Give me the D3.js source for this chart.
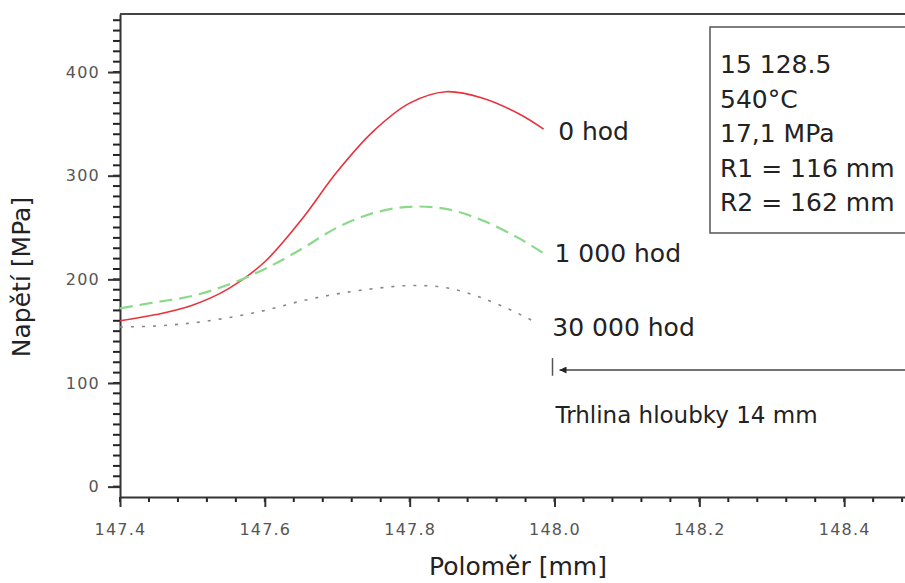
<!DOCTYPE html>
<html lang="cs">
    <head>
        <meta charset="utf-8">
        <script type="text/javascript" src="https://d3js.org/d3.v7.min.js"></script>
        <style type="text/css">
          body { margin: 0; background: white; }
          text { font-family: "DejaVu Sans", sans-serif; }
          .tick text { fill: #555; font-size: 16px; letter-spacing: 1.2px; }
          .axis path, .axis line { stroke: #333; }
        </style>
    </head>
    <body>
      <script type="text/javascript">
        // chart values
        var radius = [147.40, 147.45, 147.50, 147.55, 147.60, 147.65, 147.70, 147.75, 147.80, 147.85, 147.90, 147.95, 147.985];
        var radiusDotted = [147.40, 147.45, 147.50, 147.55, 147.60, 147.65, 147.70, 147.75, 147.80, 147.85, 147.90, 147.95, 147.97];
        var stress0 = [160, 166, 175, 191, 217, 257, 304, 343, 370, 381, 375, 360, 345];
        var stress1000 = [172, 178, 184, 195, 210, 229, 250, 264, 270, 268, 257, 240, 225];
        var stress30000 = [154, 155, 158, 163, 170, 179, 186, 191, 194, 192, 182, 167, 160];
        var seriesNames = ["0 hod", "1 000 hod", "30 000 hod"];
        var xTicks = [147.4, 147.6, 147.8, 148.0, 148.2, 148.4];
        var yTicks = [0, 100, 200, 300, 400];
        var infoLines = ["15 128.5", "540°C", "17,1 MPa", "R1 = 116 mm", "R2 = 162 mm"];
        var crackText = "Trhlina hloubky 14 mm";
        var outerRadius = 162;
        var crackDepth = 14;

        // size of the picture
        var w = 905;
        var h = 583;

        var svg = d3.select("body").append("svg").attr("width", w).attr("height", h);

        var xScale = d3.scaleLinear()
                       .domain([147.4, 148.5])
                       .range([120, 916.6]);
        var yScale = d3.scaleLinear()
                       .domain([-10, 456])
                       .range([497, 14]);

        // clip for the curves
        svg.append("defs").append("clipPath").attr("id", "plot")
           .append("rect")
           .attr("x", xScale(147.4)).attr("y", yScale(456))
           .attr("width", xScale(148.5) - xScale(147.4))
           .attr("height", yScale(-10) - yScale(456));

        // minor ticks, drawn by hand
        var xMinor = d3.range(0, 28).map(function(i) { return 147.4 + i * 0.04; });
        var yMinor = d3.range(0, 46).map(function(i) { return i * 10; });

        svg.selectAll("line.xminor")
           .data(xMinor)
           .enter()
           .append("line")
           .attr("class", "xminor")
           .attr("x1", function(d) { return xScale(d); })
           .attr("x2", function(d) { return xScale(d); })
           .attr("y1", yScale(-10))
           .attr("y2", yScale(-10) + 5)
           .attr("stroke", "#222")
           .attr("stroke-width", 2);
        svg.selectAll("line.yminor")
           .data(yMinor)
           .enter()
           .append("line")
           .attr("class", "yminor")
           .attr("x1", xScale(147.4) - 7)
           .attr("x2", xScale(147.4))
           .attr("y1", function(d) { return yScale(d); })
           .attr("y2", function(d) { return yScale(d); })
           .attr("stroke", "#222")
           .attr("stroke-width", 2);

        // major axes
        var xAxis = svg.append("g")
           .attr("class", "axis")
           .attr("transform", "translate(0," + yScale(-10) + ")")
           .call(d3.axisBottom(xScale).tickValues(xTicks).tickSize(10).tickSizeOuter(0).tickFormat(d3.format(".1f")));
        xAxis.select(".domain").attr("stroke-width", 2);
        xAxis.selectAll(".tick line").attr("stroke-width", 2);
        xAxis.selectAll(".tick text").attr("y", 27);

        var yAxis = svg.append("g")
           .attr("class", "axis")
           .attr("transform", "translate(" + xScale(147.4) + ",0)")
           .call(d3.axisLeft(yScale).tickValues(yTicks).tickSize(12).tickSizeOuter(0));
        yAxis.select(".domain").attr("stroke-width", 2);
        yAxis.selectAll(".tick line").attr("stroke-width", 2);
        yAxis.selectAll(".tick text").attr("x", -20);

        // top border
        svg.append("line")
           .attr("x1", xScale(147.4)).attr("x2", xScale(148.5))
           .attr("y1", yScale(456)).attr("y2", yScale(456))
           .attr("stroke", "#444").attr("stroke-width", 2);

        // curves
        var curves = [
          {x: radius, y: stress0, color: "#e8323c", dash: null, width: 1.6},
          {x: radius, y: stress1000, color: "#8bd98b", dash: "13,7", width: 2.2},
          {x: radiusDotted, y: stress30000, color: "#888", dash: "3,8", width: 1.6}
        ];
        var line = d3.line()
                     .x(function(d) { return xScale(d[0]); })
                     .y(function(d) { return yScale(d[1]); })
                     .curve(d3.curveCatmullRom);

        curves.forEach(function(c) {
          svg.append("path")
             .datum(d3.zip(c.x, c.y))
             .attr("clip-path", "url(#plot)")
             .attr("fill", "none")
             .attr("stroke", c.color)
             .attr("stroke-width", c.width)
             .attr("stroke-dasharray", c.dash)
             .attr("d", line);
        });

        // curve labels
        var labelAt = [[148.005, 334], [148.0, 217], [147.997, 145]];
        seriesNames.forEach(function(name, i) {
          svg.append("text")
             .attr("x", xScale(labelAt[i][0]))
             .attr("y", yScale(labelAt[i][1]))
             .attr("font-size", 25)
             .attr("fill", "#222")
             .text(name);
        });

        // info box
        svg.append("rect")
           .attr("x", 710).attr("y", 27)
           .attr("width", 220).attr("height", 206)
           .attr("fill", "white")
           .attr("stroke", "#555")
           .attr("stroke-width", 1.5);
        infoLines.forEach(function(t, i) {
          svg.append("text")
             .attr("x", 720)
             .attr("y", 73 + i * 34.5)
             .attr("font-size", 25)
             .attr("fill", "#222")
             .text(t);
        });

        // crack arrow
        var crackTip = outerRadius - crackDepth;
        svg.select("defs").append("marker")
           .attr("id", "head")
           .attr("viewBox", "0 0 10 10")
           .attr("refX", 0).attr("refY", 5)
           .attr("markerWidth", 15).attr("markerHeight", 7)
           .attr("markerUnits", "userSpaceOnUse")
           .attr("orient", "auto")
           .append("path")
           .attr("d", "M0,5 L10,0 L10,10 Z")
           .attr("fill", "#222");
        svg.append("line")
           .attr("x1", xScale(crackTip) + 5).attr("x2", xScale(148.49))
           .attr("y1", yScale(112.5)).attr("y2", yScale(112.5))
           .attr("stroke", "#444").attr("stroke-width", 1.5)
           .attr("marker-start", "url(#head)");
        svg.append("line")
           .attr("x1", xScale(crackTip) - 2).attr("x2", xScale(crackTip) - 2)
           .attr("y1", yScale(124)).attr("y2", yScale(107))
           .attr("stroke", "#555").attr("stroke-width", 1.5);
        svg.append("text")
           .attr("x", xScale(crackTip) + 1)
           .attr("y", yScale(61))
           .attr("font-size", 23)
           .attr("fill", "#222")
           .text(crackText);

        // axis titles
        svg.append("text")
           .attr("x", 518).attr("y", 575)
           .attr("text-anchor", "middle")
           .attr("font-size", 25)
           .attr("fill", "#222")
           .text("Poloměr [mm]");
        svg.append("text")
           .attr("transform", "translate(30,277) rotate(-90)")
           .attr("text-anchor", "middle")
           .attr("font-size", 25)
           .attr("fill", "#222")
           .text("Napětí [MPa]");
      </script>
    </body>
</html>
